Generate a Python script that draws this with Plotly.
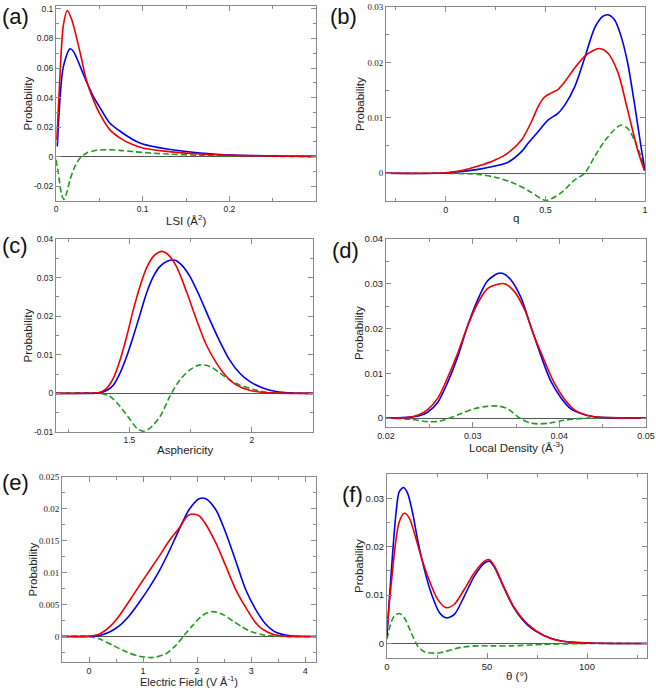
import plotly.graph_objects as go

# ---------------- data ----------------
# (a) LSI
A_RED_X = [0.001, 0.004, 0.0085, 0.013, 0.018, 0.028, 0.035, 0.043, 0.051, 0.062, 0.074, 0.089, 0.1, 0.128, 0.166, 0.205, 0.3]
A_RED_Y = [0.0115, 0.048, 0.089, 0.099, 0.093, 0.070, 0.052, 0.0386, 0.0284, 0.0183, 0.0126, 0.008, 0.0059, 0.0036, 0.0018, 0.0009, 0.0002]
A_BLUE_X = [0.0015, 0.0085, 0.0162, 0.02, 0.028, 0.035, 0.043, 0.051, 0.062, 0.074, 0.089, 0.1, 0.128, 0.166, 0.205, 0.3]
A_BLUE_Y = [0.007, 0.061, 0.073, 0.0713, 0.061, 0.051, 0.0409, 0.033, 0.0228, 0.0172, 0.0115, 0.0086, 0.0052, 0.0025, 0.0011, 0.0002]
A_GREEN_X = [0, 0.0027, 0.0065, 0.0092, 0.0123, 0.0162, 0.0219, 0.0277, 0.0354, 0.0469, 0.0585, 0.0738, 0.0892, 0.108, 0.128, 0.166, 0.205, 0.3]
A_GREEN_Y = [-0.002, -0.011, -0.0257, -0.029, -0.0246, -0.0156, -0.0065, -0.001, 0.0025, 0.0043, 0.0047, 0.0043, 0.0034, 0.0025, 0.0018, 0.0009, 0.0005, 0.0]

# (b) q
B_RED_X = [-0.3, 0, 0.08, 0.163, 0.247, 0.313, 0.38, 0.43, 0.463, 0.497, 0.53, 0.563, 0.597, 0.647, 0.697, 0.738, 0.772, 0.813, 0.863, 0.913, 0.963, 0.997]
B_RED_Y = [0, 0.0001, 0.0005, 0.0013, 0.0024, 0.0037, 0.006, 0.0093, 0.012, 0.0138, 0.0145, 0.0151, 0.0165, 0.019, 0.0211, 0.0221, 0.0225, 0.0217, 0.0183, 0.0114, 0.0042, 0.0005]
B_BLUE_X = [-0.3, 0, 0.163, 0.247, 0.313, 0.38, 0.413, 0.463, 0.513, 0.563, 0.597, 0.647, 0.697, 0.747, 0.788, 0.813, 0.847, 0.88, 0.913, 0.947, 0.98, 1.0]
B_BLUE_Y = [0, 0.00006, 0.0007, 0.0013, 0.002, 0.0039, 0.0054, 0.0075, 0.0096, 0.0108, 0.0123, 0.0156, 0.0208, 0.0262, 0.0283, 0.0286, 0.0277, 0.0247, 0.0199, 0.0126, 0.0048, 0.0005]
B_GREEN_X = [-0.3, 0, 0.163, 0.247, 0.33, 0.413, 0.48, 0.5, 0.53, 0.58, 0.647, 0.697, 0.747, 0.797, 0.847, 0.88, 0.913, 0.947, 0.98, 1.0]
B_GREEN_Y = [0, 0, -0.0002, -0.0007, -0.0016, -0.0031, -0.0046, -0.0049, -0.0046, -0.0035, -0.0012, 0, 0.003, 0.0058, 0.0079, 0.0087, 0.0081, 0.006, 0.003, 0.0005]

# (c) Asphericity
C_RED_X = [1.2, 1.354, 1.381, 1.408, 1.435, 1.462, 1.489, 1.516, 1.543, 1.57, 1.598, 1.631, 1.659, 1.692, 1.733, 1.774, 1.814, 1.855, 1.896, 1.936, 1.991, 2.058, 2.25]
C_RED_Y = [0, 0.0001, 0.0003, 0.0014, 0.004, 0.0087, 0.0148, 0.0217, 0.0277, 0.0325, 0.0355, 0.0368, 0.0359, 0.0329, 0.0264, 0.0191, 0.0126, 0.0079, 0.0044, 0.0022, 0.0008, 0.0002, 0]
C_BLUE_X = [1.2, 1.381, 1.408, 1.435, 1.462, 1.489, 1.516, 1.543, 1.57, 1.598, 1.625, 1.652, 1.686, 1.713, 1.747, 1.787, 1.828, 1.869, 1.909, 1.95, 1.991, 2.045, 2.099, 2.167, 2.25]
C_BLUE_Y = [0, 0.0002, 0.0008, 0.0022, 0.0053, 0.0096, 0.0148, 0.0204, 0.026, 0.0303, 0.0329, 0.0342, 0.0345, 0.0333, 0.0303, 0.0251, 0.0191, 0.0135, 0.0087, 0.0053, 0.0031, 0.0014, 0.0005, 0.0001, 0]
C_GREEN_X = [1.2, 1.381, 1.421, 1.462, 1.503, 1.53, 1.557, 1.584, 1.625, 1.665, 1.706, 1.747, 1.787, 1.828, 1.869, 1.909, 1.95, 2.004, 2.058, 2.126, 2.25]
C_GREEN_Y = [0, 0, -0.0008, -0.0034, -0.0068, -0.009, -0.0098, -0.009, -0.006, -0.0008, 0.0035, 0.0061, 0.0074, 0.007, 0.0053, 0.0035, 0.0022, 0.0011, 0.0003, 0.0001, 0]

# (d) Local density
D_RED_X = [0.02, 0.0225, 0.02365, 0.0248, 0.026, 0.0271, 0.0283, 0.0294, 0.0306, 0.0317, 0.0329, 0.0337, 0.0348, 0.036, 0.0371, 0.0383, 0.0394, 0.0406, 0.0417, 0.0429, 0.044, 0.046, 0.05]
D_RED_Y = [0, 0.0001, 0.0006, 0.0019, 0.0045, 0.009, 0.0146, 0.0205, 0.0257, 0.0289, 0.0299, 0.03, 0.0283, 0.0242, 0.0183, 0.0127, 0.0079, 0.0042, 0.0019, 0.0008, 0.0003, 0.0001, 0]
D_BLUE_X = [0.02, 0.02365, 0.0248, 0.026, 0.0271, 0.0283, 0.0294, 0.0306, 0.0317, 0.0329, 0.0335, 0.0344, 0.0356, 0.0367, 0.0379, 0.039, 0.0402, 0.0413, 0.0425, 0.044, 0.05]
D_BLUE_Y = [0, 0.0004, 0.0013, 0.0036, 0.0079, 0.0138, 0.0205, 0.0265, 0.0306, 0.0323, 0.0323, 0.0309, 0.0268, 0.0205, 0.0138, 0.0083, 0.0045, 0.0021, 0.001, 0.0003, 0]
D_GREEN_X = [0.02, 0.0229, 0.0248, 0.0262, 0.0275, 0.0287, 0.0302, 0.0317, 0.0329, 0.034, 0.0354, 0.0365, 0.0375, 0.039, 0.0405, 0.0433, 0.05]
D_GREEN_Y = [0, -0.0003, -0.0008, -0.0007, 0.0001, 0.001, 0.0021, 0.0026, 0.0027, 0.0021, 0, -0.001, -0.0013, -0.0011, -0.0005, 0, 0]

# (e) Electric field
E_RED_X = [-0.5, 0, 0.196, 0.38, 0.564, 0.748, 0.933, 1.117, 1.3, 1.485, 1.669, 1.822, 1.914, 2.037, 2.16, 2.344, 2.528, 2.712, 2.896, 3.08, 3.202, 3.387, 3.632, 4.2]
E_RED_Y = [0, 0.00005, 0.0004, 0.0015, 0.0033, 0.0056, 0.008, 0.0103, 0.0126, 0.015, 0.017, 0.0189, 0.0192, 0.0189, 0.0176, 0.0147, 0.0111, 0.0074, 0.0046, 0.0022, 0.0012, 0.0004, 0.00005, 0]
E_BLUE_X = [-0.5, 0, 0.196, 0.38, 0.564, 0.748, 0.933, 1.117, 1.3, 1.485, 1.669, 1.853, 2.037, 2.16, 2.344, 2.528, 2.712, 2.896, 3.08, 3.264, 3.448, 3.693, 4.2]
E_BLUE_Y = [0, 0, 0.00016, 0.0007, 0.0017, 0.0033, 0.0054, 0.0077, 0.0103, 0.0134, 0.0168, 0.0199, 0.0216, 0.0216, 0.0199, 0.0163, 0.0119, 0.0074, 0.0043, 0.002, 0.0007, 0.00016, 0]
E_GREEN_X = [-0.5, 0, 0.196, 0.442, 0.687, 0.933, 1.178, 1.423, 1.607, 1.761, 1.914, 2.098, 2.282, 2.466, 2.65, 2.834, 3.018, 3.264, 3.571, 4.2]
E_GREEN_Y = [0, 0, -0.0004, -0.0014, -0.0024, -0.0031, -0.0033, -0.0027, -0.0014, 0.0002, 0.0017, 0.0033, 0.0039, 0.0035, 0.0025, 0.0015, 0.0007, 0.0002, 0, 0]

# (f) theta
F_RED_X = [0, 1.17, 2.83, 4.5, 6.17, 8.67, 11.17, 13.67, 17, 20.33, 25.33, 29.5, 33.67, 38.67, 43.67, 48.67, 51.17, 53.67, 58.67, 63.67, 70.33, 78.67, 87, 100.33, 130]
F_RED_Y = [0.0029, 0.0084, 0.0153, 0.0214, 0.0252, 0.0269, 0.0259, 0.0228, 0.018, 0.0139, 0.0091, 0.0074, 0.0081, 0.0112, 0.0146, 0.017, 0.0173, 0.016, 0.0115, 0.0074, 0.004, 0.0016, 0.0005, 0.0001, 0]
F_BLUE_X = [0, 1.17, 2.83, 4.5, 6.17, 8.33, 10.33, 12.83, 15.33, 18.67, 22, 26.17, 29.5, 33.67, 38.67, 43.67, 48.67, 51.17, 53.67, 58.67, 63.67, 70.33, 78.67, 87, 100.33, 130]
F_BLUE_Y = [0.0016, 0.0091, 0.0187, 0.0269, 0.0314, 0.0322, 0.031, 0.0269, 0.0214, 0.0153, 0.0105, 0.0064, 0.0053, 0.006, 0.0098, 0.0139, 0.0166, 0.017, 0.0158, 0.0113, 0.0072, 0.0038, 0.0016, 0.0005, 0.0001, 0]
F_GREEN_X = [0, 2, 3.67, 6.17, 8.67, 12, 15.33, 18.67, 23.67, 28.67, 37, 45.33, 53.67, 62, 78.67, 103.67, 130]
F_GREEN_Y = [0.0009, 0.0043, 0.0057, 0.0062, 0.0053, 0.0023, -0.0005, -0.0017, -0.002, -0.0017, -0.0008, -0.0005, -0.0005, -0.0005, -0.0002, 0, 0]

# tick labels
A_XTICKS = [0, 0.1, 0.2];               A_XTEXT = ["0", "0.1", "0.2"]
A_YTICKS = [-0.02, 0, 0.02, 0.04, 0.06, 0.08, 0.1]
A_YTEXT = ["-0.02", "0", "0.02", "0.04", "0.06", "0.08", "0.1"]
B_XTICKS = [0, 0.5, 1];                 B_XTEXT = ["0", "0.5", "1"]
B_YTICKS = [0, 0.01, 0.02, 0.03];       B_YTEXT = ["0", "0.01", "0.02", "0.03"]
C_XTICKS = [1.5, 2];                    C_XTEXT = ["1.5", "2"]
C_YTICKS = [-0.01, 0, 0.01, 0.02, 0.03, 0.04]
C_YTEXT = ["-0.01", "0", "0.01", "0.02", "0.03", "0.04"]
D_XTICKS = [0.02, 0.03, 0.04, 0.05];    D_XTEXT = ["0.02", "0.03", "0.04", "0.05"]
D_YTICKS = [0, 0.01, 0.02, 0.03, 0.04]; D_YTEXT = ["0", "0.01", "0.02", "0.03", "0.04"]
E_XTICKS = [0, 1, 2, 3, 4];             E_XTEXT = ["0", "1", "2", "3", "4"]
E_YTICKS = [0, 0.005, 0.01, 0.015, 0.02, 0.025]
E_YTEXT = ["0", "0.005", "0.01", "0.015", "0.02", "0.025"]
F_XTICKS = [0, 50, 100];                F_XTEXT = ["0", "50", "100"]
F_YTICKS = [0, 0.01, 0.02, 0.03];       F_YTEXT = ["0", "0.01", "0.02", "0.03"]

X_TITLES = ["LSI (Å<sup>2</sup>)", "q", "Asphericity", "Local Density (Å<sup>-3</sup>)",
            "Electric Field (V Å<sup>-1</sup>)", "θ (°)"]
Y_TITLE = "Probability"
PANEL_LABELS = ["(a)", "(b)", "(c)", "(d)", "(e)", "(f)"]

# ---------------- layout / styling ----------------
W, H = 656, 690
RED, BLUE, GREEN = "#ee0000", "#0000ee", "#229922"
SANS = "Liberation Sans, Arial, sans-serif"
SERIF = "Liberation Serif, Times New Roman, serif"

# panel boxes in pixels (left, top, right, bottom)
BOXES = [(56, 6, 316, 201), (386, 7, 645, 201), (56, 239, 313, 432),
         (386, 239, 646, 427), (62, 477, 316, 662), (387, 474, 647, 658)]
XRANGES = [[0, 0.3], [-0.3, 1], [1.2, 2.25], [0.02, 0.05], [-0.5, 4.2], [0, 130]]
YRANGES = [[-0.03, 0.102], [-0.005, 0.03], [-0.01, 0.04], [-0.002, 0.04], [-0.004, 0.025], [-0.003, 0.035]]
XMINOR = [(0, 0.05), (0, 0.25), (1.5, 0.25), (0.02, 0.005), (0, 0.5), (0, 25)]
YMINOR = [(0, 0.01), (0, 0.005), (0, 0.005), (0, 0.005), (0, 0.0025), (0, 0.005)]
XT = [(A_XTICKS, A_XTEXT), (B_XTICKS, B_XTEXT), (C_XTICKS, C_XTEXT), (D_XTICKS, D_XTEXT), (E_XTICKS, E_XTEXT), (F_XTICKS, F_XTEXT)]
YT = [(A_YTICKS, A_YTEXT), (B_YTICKS, B_YTEXT), (C_YTICKS, C_YTEXT), (D_YTICKS, D_YTEXT), (E_YTICKS, E_YTEXT), (F_YTICKS, F_YTEXT)]
YFONT = [SANS, SERIF, SANS, SANS, SERIF, SANS]
YTICKSIZE = [8.5, 9, 8.5, 9.5, 9, 9.5]
XTICKSIZE = [8.5, 9, 8.5, 9, 9, 9.5]
LABEL_POS = [(0, 16), (328, 16), (0, 246), (330, 250), (0, 483), (340, 494)]
# axis-title centres in pixels
XTITLE_Y = [220, 218, 450, 447, 681, 676]
XTITLE_SIZE = [11.5, 11.5, 11.5, 11.5, 11, 11.5]
YTITLE_X = [27, 360, 27, 359, 32, 359]

SERIES = [
    [(A_RED_X, A_RED_Y), (A_BLUE_X, A_BLUE_Y), (A_GREEN_X, A_GREEN_Y)],
    [(B_RED_X, B_RED_Y), (B_BLUE_X, B_BLUE_Y), (B_GREEN_X, B_GREEN_Y)],
    [(C_RED_X, C_RED_Y), (C_BLUE_X, C_BLUE_Y), (C_GREEN_X, C_GREEN_Y)],
    [(D_RED_X, D_RED_Y), (D_BLUE_X, D_BLUE_Y), (D_GREEN_X, D_GREEN_Y)],
    [(E_RED_X, E_RED_Y), (E_BLUE_X, E_BLUE_Y), (E_GREEN_X, E_GREEN_Y)],
    [(F_RED_X, F_RED_Y), (F_BLUE_X, F_BLUE_Y), (F_GREEN_X, F_GREEN_Y)],
]

fig = go.Figure()
layout = dict(width=W, height=H, margin=dict(l=0, r=0, t=0, b=0, autoexpand=False),
              paper_bgcolor="white", plot_bgcolor="white", showlegend=False,
              annotations=[])

FRAME = "#8a8a8a"
TXT = "#222"
for i in range(6):
    n = "" if i == 0 else str(i + 1)
    l, t, r, b = BOXES[i]
    xdom = [l / W, r / W]
    ydom = [1 - b / H, 1 - t / H]
    (rx, ry), (bx, by), (gx, gy) = SERIES[i]
    fig.add_trace(go.Scatter(x=gx, y=gy, mode="lines", xaxis="x" + n, yaxis="y" + n,
                             line=dict(color=GREEN, width=1.6, dash="6px,3px", shape="spline", smoothing=0.8)))
    fig.add_trace(go.Scatter(x=bx, y=by, mode="lines", xaxis="x" + n, yaxis="y" + n,
                             line=dict(color=BLUE, width=1.6, shape="spline", smoothing=0.8)))
    fig.add_trace(go.Scatter(x=rx, y=ry, mode="lines", xaxis="x" + n, yaxis="y" + n,
                             line=dict(color=RED, width=1.6, shape="spline", smoothing=0.8)))
    common = dict(ticks="inside", ticklen=5, tickwidth=1, tickcolor=FRAME,
                  showline=True, linecolor=FRAME, linewidth=1, mirror="allticks",
                  showgrid=False, tickmode="array", automargin=False)
    layout["xaxis" + n] = dict(
        common, domain=xdom, range=XRANGES[i], anchor="y" + n,
        tickvals=XT[i][0], ticktext=XT[i][1], zeroline=False,
        tickfont=dict(family=SANS, size=XTICKSIZE[i], color=TXT),
        minor=dict(ticks="inside", ticklen=3, tickcolor=FRAME, tickmode="linear",
                   tick0=XMINOR[i][0], dtick=XMINOR[i][1]))
    layout["yaxis" + n] = dict(
        common, domain=ydom, range=YRANGES[i], anchor="x" + n,
        tickvals=YT[i][0], ticktext=YT[i][1],
        zeroline=True, zerolinecolor="#555", zerolinewidth=1,
        tickfont=dict(family=YFONT[i], size=YTICKSIZE[i], color=TXT),
        minor=dict(ticks="inside", ticklen=3, tickcolor=FRAME, tickmode="linear",
                   tick0=YMINOR[i][0], dtick=YMINOR[i][1]))
    # axis titles
    layout["annotations"].append(dict(
        text=X_TITLES[i], x=(l + r) / 2 / W, y=1 - XTITLE_Y[i] / H, xref="paper", yref="paper",
        xanchor="center", yanchor="middle", showarrow=False, borderpad=0,
        font=dict(family=SANS, size=XTITLE_SIZE[i], color=TXT)))
    layout["annotations"].append(dict(
        text=Y_TITLE, x=YTITLE_X[i] / W, y=1 - (t + b) / 2 / H, xref="paper", yref="paper",
        xanchor="center", yanchor="middle", showarrow=False, textangle=-90,
        font=dict(family=SANS, size=11.5, color=TXT)))
    px, py = LABEL_POS[i]
    layout["annotations"].append(dict(
        text=PANEL_LABELS[i], x=px / W, y=1 - py / H, xref="paper", yref="paper",
        xanchor="left", yanchor="middle", showarrow=False,
        font=dict(family=SANS, size=22, color="#111")))

fig.update_layout(**layout)
fig.write_html("out.html", config={"displayModeBar": False},
               post_script="document.body.style.margin='0px';")
